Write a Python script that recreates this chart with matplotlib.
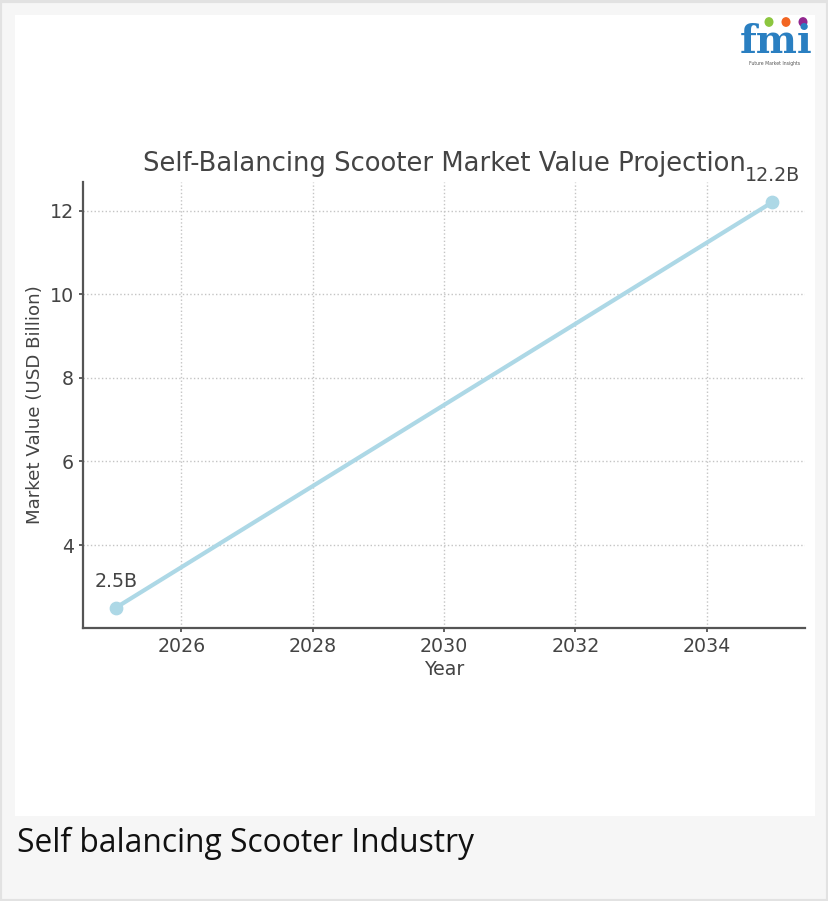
import matplotlib
matplotlib.use("Agg")
import matplotlib.pyplot as plt
from matplotlib.patches import Rectangle, Circle

years = [2025, 2035]
values = [2.5, 12.2]
labels = ["2.5B", "12.2B"]
title = "Self-Balancing Scooter Market Value Projection"
xlabel = "Year"
ylabel = "Market Value (USD Billion)"
caption = "Self balancing Scooter Industry"

W, H = 829, 901
fig = plt.figure(figsize=(W / 100, H / 100), dpi=100)
fig.patch.set_facecolor("#f6f6f6")

# outer border and white panel
fig.add_artist(Rectangle((0.5 / W, 0.5 / H), (W - 1) / W, (H - 1) / H, transform=fig.transFigure,
                         facecolor="none", edgecolor="#e2e2e2", linewidth=3))
fig.add_artist(Rectangle((15 / W, 1 - 816 / H), 800 / W, 801 / H, transform=fig.transFigure,
                         facecolor="white", edgecolor="none", zorder=0))

ax = fig.add_axes([83 / W, 1 - 628 / H, (805 - 83) / W, (628 - 182) / H])
ax.set_facecolor("none")
s = 1.37
ax.plot(years, values, color="#add8e6", linewidth=2.2 * s, marker="o", markersize=6.5 * s)
for x, y, t in zip(years, values, labels):
    ax.annotate(t, (x, y), xytext=(0, 9 * s), textcoords="offset points", ha="center",
                va="bottom", fontsize=10 * s, color="#444444")
ax.set_title(title, fontsize=13.6 * s, color="#444444", pad=8)
ax.set_xlabel(xlabel, fontsize=10 * s, color="#444444", labelpad=3)
ax.set_ylabel(ylabel, fontsize=9.6 * s, color="#444444", labelpad=4)
ax.set_xticks([2026, 2028, 2030, 2032, 2034])
ax.set_yticks([4, 6, 8, 10, 12])
ax.tick_params(labelsize=10 * s, colors="#444444", length=3, width=1.2)
ax.grid(True, linestyle=":", color="#c4c4c4", linewidth=1.0)
for sp in ["top", "right"]:
    ax.spines[sp].set_visible(False)
for sp in ["left", "bottom"]:
    ax.spines[sp].set_color("#555555")
    ax.spines[sp].set_linewidth(1.6)

# logo
fig.text(776 / W, 1 - 42 / H, "fmi", fontsize=28, fontweight="bold", color="#2a7fc1",
         ha="center", va="center", family="DejaVu Serif")
for cx, c in [(769, "#8cc63f"), (786, "#f26522"), (803, "#92278f")]:
    fig.add_artist(Circle((cx / W, 1 - 22 / H), 4.5 / W, transform=fig.transFigure,
                          facecolor=c, edgecolor="none"))
fig.text(775 / W, 1 - 64 / H, "Future Market Insights", fontsize=3.3, color="#555555",
         ha="center", va="center")

fig.text(17 / W, 1 - 843 / H, caption, fontsize=22.9, color="#111111", family="Open Sans",
         ha="left", va="center")

fig.savefig("out.png", dpi=100, facecolor=fig.get_facecolor())
